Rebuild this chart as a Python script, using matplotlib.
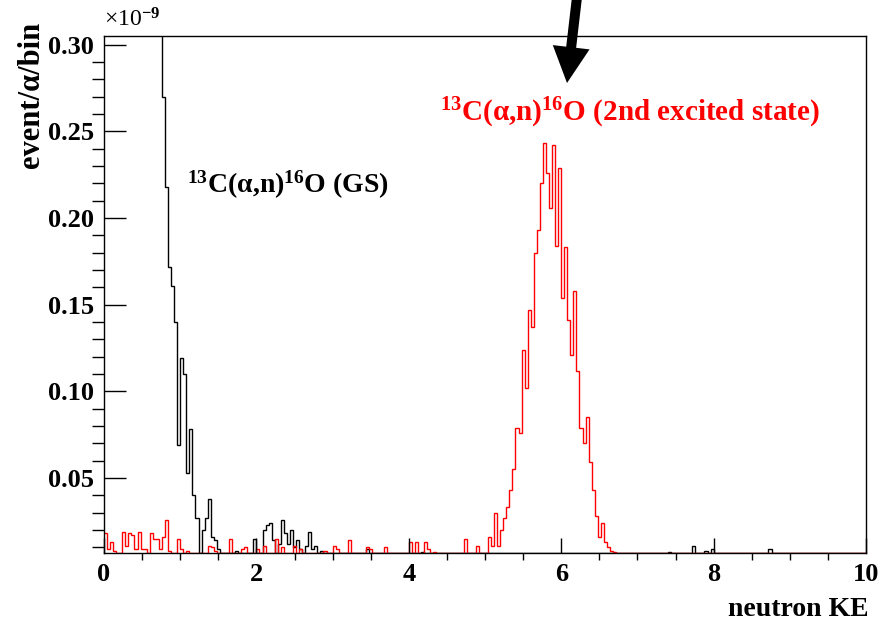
"""ROOT-style neutron KE spectrum: 13C(a,n)16O ground state vs 2nd excited state."""
import numpy as np
import matplotlib
matplotlib.use("Agg")
import matplotlib.pyplot as plt
from matplotlib.patches import FancyArrow
from matplotlib.ticker import MultipleLocator, FormatStrFormatter

plt.rcParams["font.family"] = ["Liberation Serif", "DejaVu Serif"]
plt.rcParams["font.weight"] = "bold"
plt.rcParams["mathtext.fontset"] = "custom"
plt.rcParams["mathtext.rm"] = "Liberation Serif:bold"
plt.rcParams["mathtext.it"] = "Liberation Serif:italic:bold"
plt.rcParams["mathtext.bf"] = "Liberation Serif:bold"

BIN = 0.04           # bin width in neutron KE
NBINS = 250
Y_LO, Y_HI = 0.0067, 0.305   # frame range, units of 1e-9 event/alpha/bin

# GS (black): bins below 0.76 run off the top of the frame, values guessed
gs_e = [0.00, 0.04, 0.08, 0.12, 0.16, 0.20, 0.24, 0.28, 0.32, 0.36,
        0.40, 0.44, 0.48, 0.52, 0.56, 0.60, 0.64, 0.68, 0.72,
        0.76, 0.80, 0.84, 0.88, 0.92, 0.96, 1.00, 1.04, 1.08, 1.12,
        1.16, 1.20, 1.24, 1.28, 1.32, 1.36, 1.40, 1.44, 1.48,
        1.72, 1.96, 2.08, 2.12, 2.16, 2.20, 2.28, 2.32, 2.36, 2.40,
        2.44, 2.48, 2.52, 2.56, 2.64, 2.68, 2.72, 2.76, 2.84,
        3.44, 4.16, 7.40, 7.72, 7.88, 7.96, 8.72]
gs_v = [2.60, 2.40, 2.20, 2.00, 1.90, 1.70, 1.55, 1.40, 1.25, 1.10,
        1.00, 0.90, 0.80, 0.72, 0.64, 0.56, 0.48, 0.42, 0.36,
        0.270, 0.218, 0.172, 0.161, 0.140, 0.069, 0.119, 0.110, 0.053, 0.078,
        0.040, 0.027, 0.004, 0.020, 0.027, 0.038, 0.016, 0.014, 0.009,
        0.008, 0.015, 0.020, 0.023, 0.024, 0.014, 0.012, 0.026, 0.018, 0.012,
        0.020, 0.010, 0.014, 0.009, 0.011, 0.019, 0.009, 0.011, 0.008,
        0.009, 0.007, 0.0075, 0.011, 0.008, 0.009, 0.009]

# 2nd excited state (red)
ex_e = [0.00, 0.04, 0.08, 0.12, 0.24, 0.28, 0.32, 0.36, 0.40, 0.44,
        0.48, 0.52, 0.60, 0.64, 0.68, 0.72, 0.76, 0.80, 0.84, 0.96,
        1.00, 1.08, 1.36, 1.40, 1.44, 1.64, 1.80, 1.84, 2.00, 2.08,
        2.24, 2.32, 2.48, 2.56, 2.88, 3.00, 3.04, 3.20, 3.44, 3.48,
        3.68, 4.00, 4.08, 4.20, 4.24, 4.32, 4.72, 4.88, 5.04, 5.08,
        5.12, 5.16, 5.20, 5.24, 5.28, 5.32, 5.36, 5.40, 5.44, 5.48,
        5.52, 5.56, 5.60, 5.64, 5.68, 5.72, 5.76, 5.80, 5.84, 5.88,
        5.92, 5.96, 6.00, 6.04, 6.08, 6.12, 6.16, 6.20, 6.24, 6.28,
        6.32, 6.36, 6.40, 6.44, 6.48, 6.52, 6.56, 6.60, 6.64, 6.68]
ex_v = [0.018, 0.009, 0.013, 0.008, 0.019, 0.011, 0.018, 0.017, 0.009, 0.019,
        0.009, 0.009, 0.018, 0.015, 0.015, 0.009, 0.016, 0.026, 0.008, 0.015,
        0.009, 0.008, 0.011, 0.010, 0.008, 0.015, 0.009, 0.010, 0.009, 0.011,
        0.015, 0.010, 0.011, 0.009, 0.008, 0.011, 0.009, 0.014, 0.010, 0.009,
        0.010, 0.013, 0.013, 0.013, 0.009, 0.007, 0.015, 0.011, 0.016, 0.011,
        0.030, 0.011, 0.020, 0.027, 0.033, 0.043, 0.055, 0.079, 0.076, 0.124,
        0.102, 0.147, 0.137, 0.180, 0.193, 0.220, 0.243, 0.226, 0.206, 0.242,
        0.184, 0.229, 0.154, 0.183, 0.141, 0.121, 0.158, 0.112, 0.079, 0.070,
        0.085, 0.059, 0.043, 0.028, 0.016, 0.024, 0.013, 0.010, 0.008, 0.007]


def to_hist(e, v):
    h = np.zeros(NBINS)
    h[np.rint(np.array(e) / BIN).astype(int)] = v
    return h


edges = np.linspace(0, NBINS * BIN, NBINS + 1)
gs = to_hist(gs_e, gs_v)
ex = to_hist(ex_e, ex_v)

fig = plt.figure(figsize=(8.8, 6.21), dpi=100)
ax = fig.add_axes([0.1182, 0.1095, 0.8659, 0.8325])

# empty bins sit on the frame floor, like ROOT draws them
ax.stairs(np.maximum(gs, Y_LO), edges, color="black", lw=1.0, baseline=None)
ax.stairs(np.maximum(ex, Y_LO), edges, color="red", lw=1.0, baseline=None)

ax.set_xlim(0, 10)
ax.set_ylim(Y_LO, Y_HI)
ax.xaxis.set_major_locator(MultipleLocator(2))
ax.xaxis.set_minor_locator(MultipleLocator(0.5))
ax.yaxis.set_major_locator(MultipleLocator(0.05))
ax.yaxis.set_minor_locator(MultipleLocator(0.01))
ax.yaxis.set_major_formatter(FormatStrFormatter("%.2f"))
ax.xaxis.set_major_formatter(FormatStrFormatter("%d"))
ax.tick_params(axis="both", direction="in", labelsize=19, pad=7, width=1.0)
ax.tick_params(axis="y", which="major", length=16)
ax.tick_params(axis="y", which="minor", length=8.5, width=1.0)
ax.tick_params(axis="x", which="major", length=11)
ax.tick_params(axis="x", which="minor", length=5, width=1.0)
for s in ax.spines.values():
    s.set_linewidth(1.0)

fig.text(104 / 880, 1 - 20 / 621, "×10$^{-9}$", fontsize=17, fontweight="normal",
         ha="left", va="center")
fig.text(31 / 880, 1 - 22 / 621, "event/α/bin", fontsize=22, rotation=90,
         ha="center", va="top")
fig.text(868 / 880, 1 - 616 / 621, "neutron KE", fontsize=20, ha="right", va="baseline")

ax.text(1.09, 0.219, "$^{13}$C(α,n)$^{16}$O (GS)", fontsize=20, color="black",
        ha="left", va="center")
ax.text(4.41, 0.2606, "$^{13}$C(α,n)$^{16}$O (2nd excited state)", fontsize=21,
        color="red", ha="left", va="center")

# arrow drawn on a pixel-space overlay
over = fig.add_axes([0, 0, 1, 1], zorder=5)
over.set_xlim(0, 880)
over.set_ylim(621, 0)
over.axis("off")
over.patch.set_alpha(0)
over.add_patch(FancyArrow(579, -20, -12, 103, width=10, head_width=37, head_length=36,
                          length_includes_head=True, color="black", lw=0))

fig.savefig("out.png", dpi=100)
